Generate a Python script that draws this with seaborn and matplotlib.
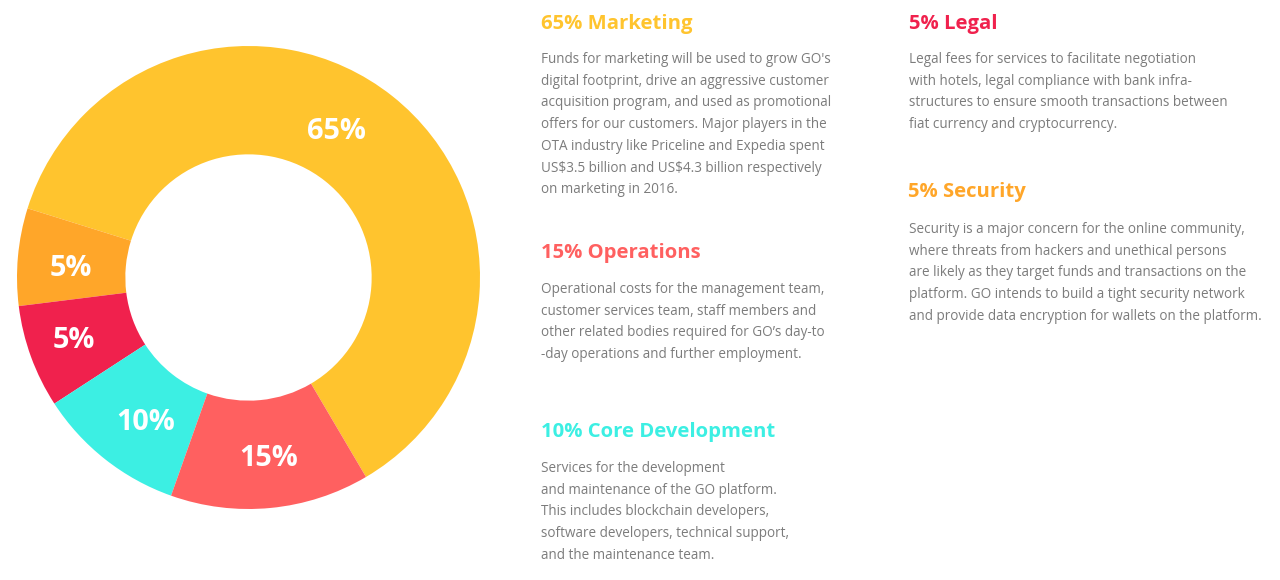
import matplotlib
matplotlib.use('Agg')
import matplotlib.pyplot as plt
import seaborn as sns

# slice shares as drawn (the printed labels are rounded differently)
slice_names = ['Marketing', 'Security', 'Legal', 'Core Development', 'Operations']
slice_shares = [61.7, 6.8, 7.2, 10.4, 13.9]
slice_labels = ['65%', '5%', '5%', '10%', '15%']
slice_colors = ['#FFC42E', '#FFA629', '#F0214D', '#3CEFE3', '#FF6060']
label_spots = [(336, 131), (71, 269), (74, 341), (146, 422), (269, 459)]

marketing_text = ["Funds for marketing will be used to grow GO's",
                  'digital footprint, drive an aggressive customer',
                  'acquisition program, and used as promotional',
                  'offers for our customers. Major players in the',
                  'OTA industry like Priceline and Expedia spent',
                  'US$3.5 billion and US$4.3 billion respectively',
                  'on marketing in 2016.']
operations_text = ['Operational costs for the management team,',
                   'customer services team, staff members and',
                   'other related bodies required for GO’s day-to',
                   '-day operations and further employment.']
core_text = ['Services for the development',
             'and maintenance of the GO platform.',
             'This includes blockchain developers,',
             'software developers, technical support,',
             'and the maintenance team.']
legal_text = ['Legal fees for services to facilitate negotiation',
              'with hotels, legal compliance with bank infra-',
              'structures to ensure smooth transactions between',
              'fiat currency and cryptocurrency.']
security_text = ['Security is a major concern for the online community,',
                 'where threats from hackers and unethical persons',
                 'are likely as they target funds and transactions on the',
                 'platform. GO intends to build a tight security network',
                 'and provide data encryption for wallets on the platform.']

# heading, colour, heading x, body x, heading y, first line y, body lines
blocks = [('65% Marketing', '#FFC42E', 541, 541, 24, 59.5, marketing_text),
          ('15% Operations', '#FF6060', 541, 541, 253, 289.5, operations_text),
          ('10% Core Development', '#3CEFE3', 541, 541, 432, 468.5, core_text),
          ('5% Legal', '#F0214D', 909, 909, 24, 59.5, legal_text),
          ('5% Security', '#FFA629', 908, 909, 192, 229.5, security_text)]

W, H = 1280, 580
sns.set_theme(style='white')
plt.rcParams['font.family'] = ['Open Sans', 'DejaVu Sans']

fig = plt.figure(figsize=(W / 100, H / 100), dpi=100, facecolor='white')

# donut, centre (248.5, 277.5) radius 231.5 in pixels
cx, cy, r = 248.5, 277.5, 231.5
ax = fig.add_axes([(cx - r) / W, 1 - (cy + r) / H, 2 * r / W, 2 * r / H])
ax.pie(slice_shares, colors=sns.color_palette(slice_colors), startangle=-59.5,
       radius=1, wedgeprops={'width': 0.468, 'linewidth': 0})
ax.set_xlim(-1, 1)
ax.set_ylim(-1, 1)

for lab, (x, y) in zip(slice_labels, label_spots):
    fig.text(x / W, 1 - y / H, lab, color='white', fontsize=20.8, fontweight='bold',
             ha='center', va='center')

# text column on the right
for head, col, hx, bx, hy, ly, lines in blocks:
    fig.text(hx / W, 1 - hy / H, head, color=col, fontsize=14.6, fontweight='bold',
             ha='left', va='center')
    for i, line in enumerate(lines):
        fig.text(bx / W, 1 - (ly + i * 21.7) / H, line, color='#7C7C7C', fontsize=9.72,
                 ha='left', va='center', parse_math=False)

fig.savefig('out.png', dpi=100, facecolor='white')
